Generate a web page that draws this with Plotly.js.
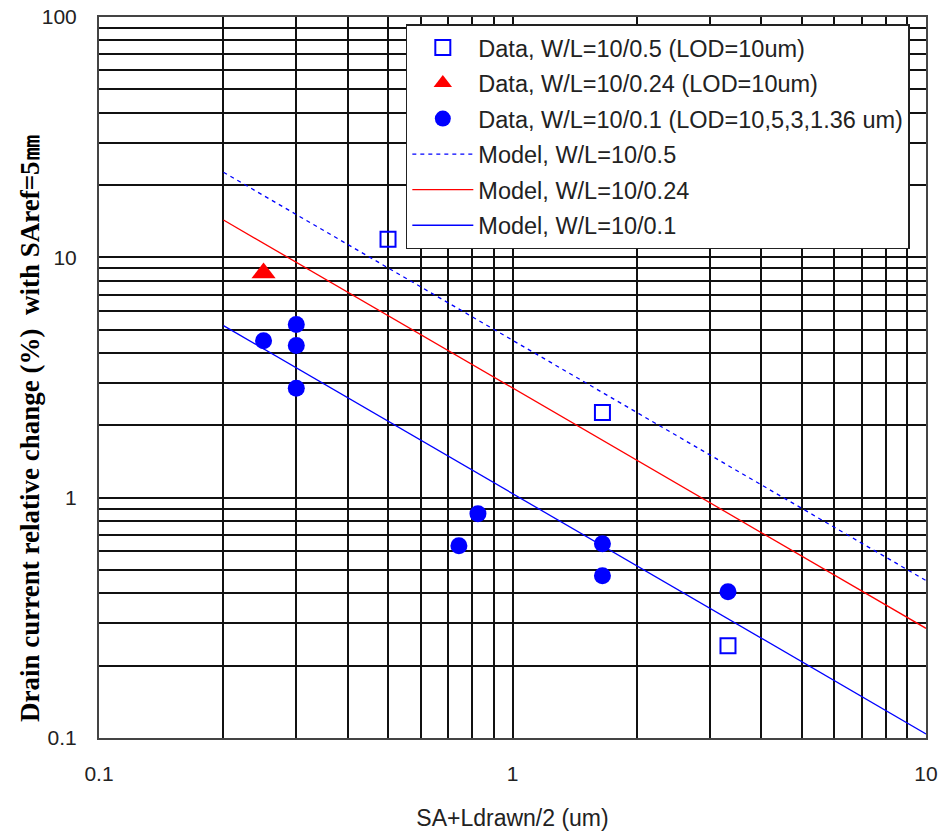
<!DOCTYPE html>
<html>
<head>
<meta charset="utf-8">
<script src="https://cdn.plot.ly/plotly-3.0.1.min.js"></script>
<style>html,body{margin:0;padding:0;background:#fff;}#chart{width:939px;height:832px;}</style>
</head>
<body>
<div id="chart"></div>
<script>
// Data, W/L=10/0.5 (LOD=10um)
const sqX = [0.5, 1.65, 3.32];
const sqY = [11.9, 2.26, 0.242];
// Data, W/L=10/0.24 (LOD=10um)
const triX = [0.25];
const triY = [8.6];
// Data, W/L=10/0.1 (LOD=10,5,3,1.36 um)
const cirX = [0.25, 0.3, 0.3, 0.3, 0.742, 0.825, 1.65, 1.65, 3.32];
const cirY = [4.5, 5.26, 4.3, 2.85, 0.631, 0.858, 0.643, 0.473, 0.406];
// Model lines
const modelX = [0.2, 10];
const model05Y = [22.6, 0.452];
const model024Y = [14.3, 0.286];
const model01Y = [5.2, 0.104];

const names = [
  'Data, W/L=10/0.5 (LOD=10um)',
  'Data, W/L=10/0.24 (LOD=10um)',
  'Data, W/L=10/0.1 (LOD=10,5,3,1.36 um)',
  'Model, W/L=10/0.5',
  'Model, W/L=10/0.24',
  'Model, W/L=10/0.1'
];

// Tick values (log grid)
const xTickVals = [0.1,0.2,0.3,0.4,0.5,0.6,0.7,0.8,0.9,1,2,3,4,5,6,7,8,9,10];
const xTickText = ['0.1','','','','','','','','','1','','','','','','','','','10'];
const yTickVals = [0.1,0.2,0.3,0.4,0.5,0.6,0.7,0.8,0.9,1,2,3,4,5,6,7,8,9,10,20,30,40,50,60,70,80,90,100];
const yTickText = ['0.1','','','','','','','','','1','','','','','','','','','10','','','','','','','','','100'];

const BLUE = '#0000ff', RED = '#ff0000';

const traces = [
  {x: sqX, y: sqY, name: names[0], legendgroup: 'a', mode: 'markers', type: 'scatter',
   marker: {symbol: 'square-open', size: 15, color: BLUE, line: {width: 2, color: BLUE}}},
  {x: triX, y: triY, name: names[1], legendgroup: 'b', mode: 'markers', type: 'scatter',
   marker: {symbol: 'triangle-up', size: 21, color: RED}},
  {x: cirX, y: cirY, name: names[2], legendgroup: 'c', mode: 'markers', type: 'scatter',
   marker: {symbol: 'circle', size: 17, color: BLUE}},
  {x: modelX, y: model05Y, name: names[3], legendgroup: 'd', mode: 'lines', type: 'scatter',
   line: {color: BLUE, width: 1.3, dash: '4px,4px'}},
  {x: modelX, y: model024Y, name: names[4], legendgroup: 'e', mode: 'lines', type: 'scatter',
   line: {color: RED, width: 1.3}},
  {x: modelX, y: model01Y, name: names[5], legendgroup: 'f', mode: 'lines', type: 'scatter',
   line: {color: BLUE, width: 1.3}}
];

const gridC = '#111111';
const layout = {
  width: 939, height: 832,
  margin: {l: 99, r: 13, t: 17, b: 94},
  paper_bgcolor: '#fff', plot_bgcolor: '#fff',
  font: {family: '"Liberation Sans", Arial, sans-serif', size: 21, color: '#222'},
  showlegend: true,
  legend: {
    x: 0.371, y: 0.99, xanchor: 'left', yanchor: 'top',
    bgcolor: '#fff', bordercolor: '#222', borderwidth: 1.5,
    font: {family: '"Liberation Sans", Arial, sans-serif', size: 23.5, color: '#222'},
    traceorder: 'grouped', tracegroupgap: 2, itemwidth: 61
  },
  xaxis: {
    type: 'log', range: [-1, 1],
    tickmode: 'array', tickvals: xTickVals, ticktext: xTickText,
    showgrid: true, gridcolor: gridC, gridwidth: 2,
    showline: true, linecolor: '#444', linewidth: 2, mirror: true,
    ticks: '', ticklabelstandoff: 16, zeroline: false,
    title: {text: 'SA+Ldrawn/2 (um)', font: {size: 23, color: '#222'}, standoff: 26}
  },
  yaxis: {
    type: 'log', range: [-1, 2],
    tickmode: 'array', tickvals: yTickVals, ticktext: yTickText,
    showgrid: true, gridcolor: gridC, gridwidth: 2,
    showline: true, linecolor: '#444', linewidth: 2, mirror: true,
    ticks: '', ticklabelstandoff: 16, zeroline: false
  },
  annotations: [{
    text: '<b>Drain current relative change (%)  with SAref=5㎜</b>',
    xref: 'paper', yref: 'paper', x: (30 - 99) / 827, y: 0.43,
    xanchor: 'center', yanchor: 'middle', textangle: -90, showarrow: false,
    font: {family: '"Liberation Serif", "Times New Roman", serif', size: 27, color: '#000'}
  }]
};

Plotly.newPlot('chart', traces, layout, {displayModeBar: false, staticPlot: true});
</script>
</body>
</html>
